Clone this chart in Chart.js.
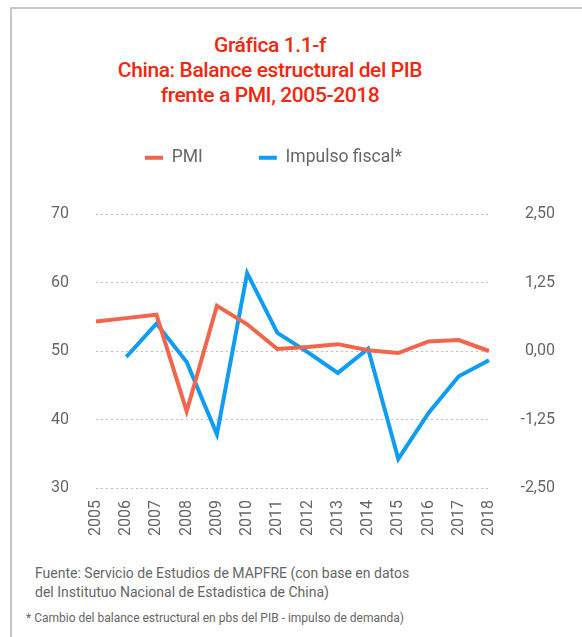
<!DOCTYPE html>
<html>
<head>
<meta charset="utf-8">
<script src="https://cdn.jsdelivr.net/npm/chart.js@4.4.1/dist/chart.umd.min.js"></script>
<style>
body{margin:0;background:#fff;overflow:hidden;font-family:Roboto,sans-serif;}
#frame{position:absolute;left:10px;top:7px;width:640px;height:700px;border-left:2px solid #c6c6c6;border-top:2px solid #c6c6c6;}
#title{position:absolute;left:0;top:33px;width:540px;text-align:center;color:#f4260f;font-size:21px;font-weight:500;line-height:25px;letter-spacing:-0.4px;}
#wrap{position:absolute;left:-8px;top:93px;width:590px;height:452px;}
#src{position:absolute;left:35px;top:564px;color:#666;font-size:14px;line-height:19px;}
#note{position:absolute;left:26px;top:611px;color:#666;font-size:12px;}
</style>
</head>
<body>
<div id="frame"></div>
<div id="title">Gráfica 1.1-f<br>China: Balance estructural del PIB<br>frente a PMI, 2005-2018</div>
<div id="wrap"><canvas id="chart"></canvas></div>
<div id="src">Fuente: Servicio de Estudios de MAPFRE (con base en datos<br>del Institutuo Nacional de Estadistica de China)</div>
<div id="note">* Cambio del balance estructural en pbs del PIB - impulso de demanda)</div>
<script>
// Data
const years=["2005","2006","2007","2008","2009","2010","2011","2012","2013","2014","2015","2016","2017","2018"];
const pmi=[54.3,54.8,55.3,41.2,56.6,53.9,50.3,50.6,51.0,50.1,49.7,51.4,51.6,50.0];
const impulso=[null,-0.11,0.50,-0.20,-1.52,1.42,0.33,-0.02,-0.40,0.04,-1.97,-1.13,-0.46,-0.17];
const pmiTicks=[30,40,50,60,70];
const impTicks=[-2.5,-1.25,0,1.25,2.5];

const grey="#666";
const tickFont={family:"Roboto",size:16};

// push the plot down below the legend
const legendGap={
  id:"legendGap",
  beforeInit(chart){
    const fit=chart.legend.fit;
    chart.legend.fit=function(){ fit.bind(chart.legend)(); this.height+=37.5; };
  }
};

new Chart(document.getElementById("chart"),{
  type:"line",
  data:{
    labels:years,
    datasets:[
      {label:"PMI",data:pmi,yAxisID:"y",borderColor:"#f0654c",backgroundColor:"#f0654c",borderWidth:4,pointRadius:0,borderJoinStyle:"miter",tension:0},
      {label:"Impulso fiscal*",data:impulso,yAxisID:"y2",borderColor:"#0f9cf3",backgroundColor:"#0f9cf3",borderWidth:4,pointRadius:0,borderJoinStyle:"miter",tension:0}
    ]
  },
  options:{
    responsive:true,maintainAspectRatio:false,animation:false,
    layout:{padding:{left:0,right:27,top:0,bottom:0}},
    plugins:{
      legend:{
        position:"top",
        labels:{
          boxWidth:18,boxHeight:4,padding:56,color:grey,font:{family:"Roboto",size:17.5},
          generateLabels(chart){
            return Chart.defaults.plugins.legend.labels.generateLabels(chart).map(l=>({...l,lineWidth:0}));
          }
        }
      },
      tooltip:{enabled:false}
    },
    scales:{
      x:{
        offset:false,
        grid:{display:false},border:{display:false},
        ticks:{autoSkip:false,minRotation:90,maxRotation:90,padding:4,color:grey,font:tickFont},
        afterFit(s){ s.height=57; }
      },
      y:{
        position:"left",min:30,max:70,
        afterBuildTicks(s){ s.ticks=pmiTicks.map(v=>({value:v})); },
        grid:{color:"#bdbdbd",drawTicks:false,tickBorderDash:[2,3]},
        border:{display:false,dash:[2,3]},
        ticks:{padding:27,color:grey,font:tickFont},
        afterFit(s){ s.width=104; }
      },
      y2:{
        position:"right",min:-2.5,max:2.5,
        afterBuildTicks(s){ s.ticks=impTicks.map(v=>({value:v})); },
        grid:{display:false},border:{display:false},
        ticks:{padding:7,crossAlign:"far",color:grey,font:tickFont,callback:v=>v.toFixed(2).replace(".",",")},
        afterFit(s){ s.width=66; }
      }
    }
  },
  plugins:[legendGap]
});
</script>
</body>
</html>
